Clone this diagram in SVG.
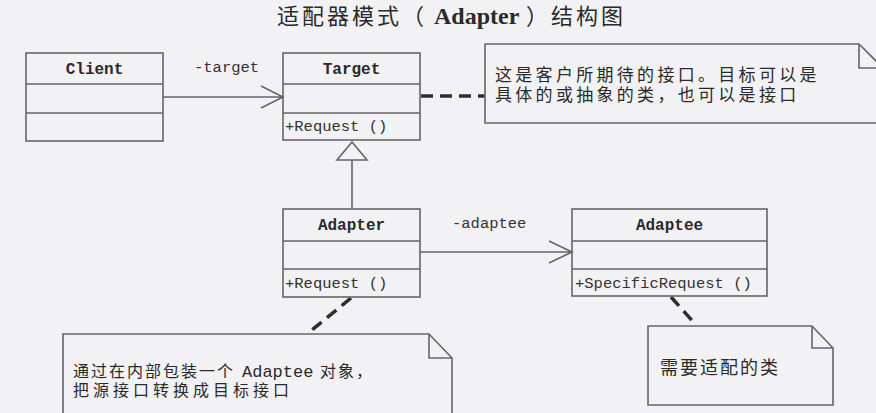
<svg xmlns="http://www.w3.org/2000/svg" width="876" height="413" viewBox="0 0 876 413">
<style>
.box{fill:none;stroke:#666;stroke-width:1.6}
.line{fill:none;stroke:#666;stroke-width:1.6}
.dash{fill:none;stroke:#2e2e2e;stroke-width:3.5;stroke-dasharray:12 7}
.name{font-family:"Liberation Mono",monospace;font-weight:bold;font-size:16px;fill:#2a2a2a;text-anchor:middle}
.mono{font-family:"Liberation Mono",monospace;font-size:15.5px;fill:#333}
.cn{font-family:"Noto Sans CJK SC","Noto Sans",sans-serif;fill:#2a2a2a}
</style>
<rect x="0" y="0" width="876" height="413" fill="#f2f1f4"/>
<text class="cn" x="277" y="24" font-size="22" letter-spacing="3">适配器模式（</text>
<text x="434" y="24" font-family="Liberation Serif,serif" font-weight="bold" font-size="24" fill="#2a2a2a">Adapter</text>
<text class="cn" x="526" y="24" font-size="22" letter-spacing="3">）结构图</text>
<g id="connectors">
<path class="line" d="M163,97 H283 M261,86 L283,97 L261,108"/>
<text class="mono" x="194" y="72">-target</text>
<path class="line" d="M352,160 V209"/>
<path class="line" d="M352,142 L367,160 H337 Z" fill="#f2f1f4"/>
<path class="line" d="M420,252 H572 M549,241 L572,252 L549,263"/>
<text class="mono" x="452" y="228">-adaptee</text>
<path class="dash" d="M421,96 H485"/>
<path class="dash" d="M351,298 L307,334"/>
<path class="dash" d="M671,297 L696,325"/>
</g>
<g id="client">
<rect class="box" x="26" y="53" width="137" height="88"/>
<path class="line" d="M26,84 H163 M26,113 H163"/>
<text class="name" x="94.5" y="74">Client</text>
</g>
<g id="target">
<rect class="box" x="283" y="53" width="137" height="87"/>
<path class="line" d="M283,84 H420 M283,113 H420"/>
<text class="name" x="351.5" y="74">Target</text>
<text class="mono" x="285" y="131">+Request ()</text>
</g>
<g id="adapter">
<rect class="box" x="283" y="209" width="137" height="88"/>
<path class="line" d="M283,241 H420 M283,269 H420"/>
<text class="name" x="351.5" y="230">Adapter</text>
<text class="mono" x="285" y="288">+Request ()</text>
</g>
<g id="adaptee">
<rect class="box" x="572" y="209" width="195" height="87"/>
<path class="line" d="M572,241 H767 M572,269 H767"/>
<text class="name" x="669.5" y="230">Adaptee</text>
<text class="mono" x="575" y="288">+SpecificRequest ()</text>
</g>
<g id="note-target">
<path class="box" d="M485,44 H859 L883,68 V123 H485 Z M859,44 V68 H883"/>
<text class="cn" x="495" y="81" font-size="17" letter-spacing="3.3">这是客户所期待的接口。目标可以是</text>
<text class="cn" x="495" y="101" font-size="17" letter-spacing="3.3">具体的或抽象的类，也可以是接口</text>
</g>
<g id="note-adapter">
<path class="box" d="M63,420 V334 H429 L452,358 V420 M429,334 V358 H452"/>
<text class="cn" x="73" y="377" font-size="16" letter-spacing="2">通过在内部包装一个</text>
<text x="242" y="377" font-family="Liberation Mono,monospace" font-size="17" fill="#2a2a2a">Adaptee</text>
<text class="cn" x="320" y="377" font-size="16" letter-spacing="2">对象，</text>
<text class="cn" x="73" y="396" font-size="16" letter-spacing="4">把源接口转换成目标接口</text>
</g>
<g id="note-adaptee">
<path class="box" d="M648,326 H812 L833,348 V405 H648 Z M812,326 V348 H833"/>
<text class="cn" x="660" y="374" font-size="18" letter-spacing="2">需要适配的类</text>
</g>
</svg>
